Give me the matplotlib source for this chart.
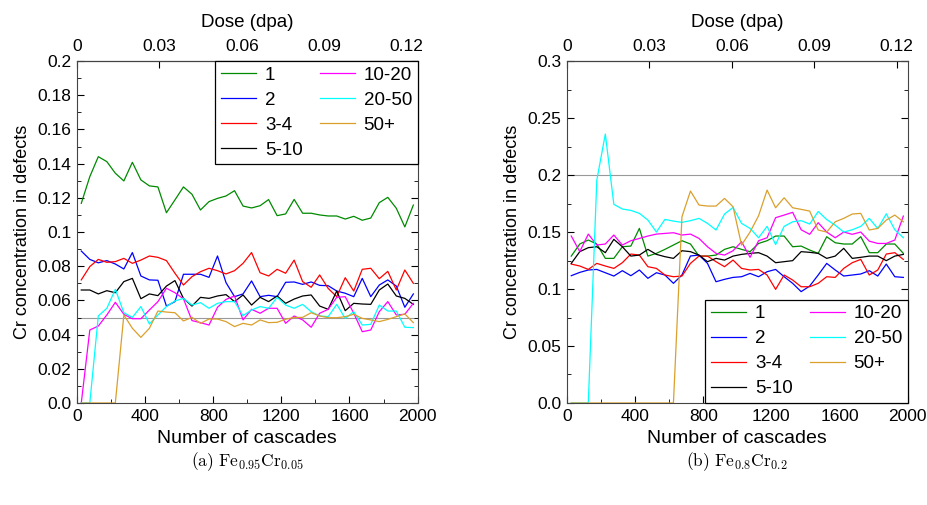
import matplotlib
matplotlib.use('Agg')
import matplotlib.pyplot as plt
from matplotlib.ticker import MultipleLocator, FuncFormatter

plt.rcParams['font.family'] = ['Liberation Sans', 'DejaVu Sans']
plt.rcParams['mathtext.fontset'] = 'cm'

# number of cascades (bin centres)
cascades = [25, 75, 125, 175, 225, 275, 325, 375, 425, 475,
            525, 575, 625, 675, 725, 775, 825, 875, 925, 975,
            1025, 1075, 1125, 1175, 1225, 1275, 1325, 1375, 1425, 1475,
            1525, 1575, 1625, 1675, 1725, 1775, 1825, 1875, 1925, 1975]

labels = ['1', '2', '3-4', '5-10', '10-20', '20-50', '50+']
colors = ['#008a00', '#0000ff', '#ff0000', '#000000', '#ff00ff', '#00ffff', '#daa02c']

# (a) Fe0.95Cr0.05
a_1 = [0.1168, 0.1324, 0.1441, 0.1412, 0.1344, 0.1299, 0.1408, 0.1305, 0.1270, 0.1264,
       0.1113, 0.1188, 0.1264, 0.1221, 0.1129, 0.1178, 0.1197, 0.1211, 0.1242, 0.1152,
       0.1141, 0.1154, 0.1190, 0.1096, 0.1106, 0.1191, 0.1110, 0.1110, 0.1100, 0.1094,
       0.1094, 0.1076, 0.1092, 0.1069, 0.1082, 0.1172, 0.1203, 0.1139, 0.1030, 0.1158]
a_2 = [0.0889, 0.0840, 0.0820, 0.0833, 0.0813, 0.0784, 0.0880, 0.0743, 0.0720, 0.0718,
       0.0567, 0.0593, 0.0753, 0.0753, 0.0753, 0.0735, 0.0860, 0.0704, 0.0622, 0.0638,
       0.0714, 0.0622, 0.0630, 0.0622, 0.0706, 0.0708, 0.0694, 0.0708, 0.0688, 0.0686,
       0.0655, 0.0642, 0.0622, 0.0729, 0.0622, 0.0690, 0.0720, 0.0684, 0.0560, 0.0638]
a_3 = [0.0720, 0.0798, 0.0840, 0.0823, 0.0827, 0.0846, 0.0817, 0.0836, 0.0860, 0.0852,
       0.0833, 0.0759, 0.0690, 0.0739, 0.0768, 0.0788, 0.0774, 0.0755, 0.0774, 0.0817,
       0.0880, 0.0762, 0.0743, 0.0782, 0.0759, 0.0836, 0.0710, 0.0677, 0.0749, 0.0670,
       0.0622, 0.0733, 0.0655, 0.0782, 0.0788, 0.0727, 0.0770, 0.0661, 0.0778, 0.0700]
a_4 = [0.0661, 0.0661, 0.0638, 0.0657, 0.0645, 0.0710, 0.0729, 0.0610, 0.0638, 0.0628,
       0.0684, 0.0716, 0.0612, 0.0567, 0.0618, 0.0612, 0.0626, 0.0634, 0.0593, 0.0632,
       0.0573, 0.0618, 0.0593, 0.0626, 0.0583, 0.0608, 0.0626, 0.0632, 0.0567, 0.0548,
       0.0655, 0.0540, 0.0583, 0.0579, 0.0577, 0.0661, 0.0696, 0.0626, 0.0612, 0.0577]
a_5 = [0.0, 0.0427, 0.0450, 0.0515, 0.0589, 0.0519, 0.0493, 0.0493, 0.0544, 0.0593,
       0.0671, 0.0645, 0.0610, 0.0482, 0.0470, 0.0456, 0.0560, 0.0606, 0.0626, 0.0486,
       0.0548, 0.0525, 0.0554, 0.0554, 0.0466, 0.0509, 0.0486, 0.0443, 0.0525, 0.0548,
       0.0618, 0.0622, 0.0525, 0.0417, 0.0427, 0.0534, 0.0593, 0.0515, 0.0519, 0.0583]
a_6 = [0.0, 0.0, 0.0509, 0.0554, 0.0665, 0.0528, 0.0501, 0.0564, 0.0462, 0.0515,
       0.0564, 0.0597, 0.0612, 0.0573, 0.0587, 0.0554, 0.0583, 0.0593, 0.0593, 0.0511,
       0.0544, 0.0564, 0.0554, 0.0618, 0.0573, 0.0554, 0.0577, 0.0534, 0.0509, 0.0505,
       0.0577, 0.0495, 0.0534, 0.0456, 0.0460, 0.0573, 0.0538, 0.0538, 0.0443, 0.0441]
a_7 = [0.0, 0.0, 0.0, 0.0, 0.0, 0.0515, 0.0437, 0.0384, 0.0437, 0.0538,
       0.0532, 0.0528, 0.0480, 0.0501, 0.0466, 0.0491, 0.0491, 0.0476, 0.0447, 0.0466,
       0.0456, 0.0486, 0.0470, 0.0472, 0.0490, 0.0500, 0.0501, 0.0528, 0.0509, 0.0499,
       0.0499, 0.0505, 0.0519, 0.0495, 0.0486, 0.0476, 0.0489, 0.0505, 0.0521, 0.0470]

# (b) Fe0.8Cr0.2
b_1 = [0.1289, 0.1395, 0.1430, 0.1395, 0.1269, 0.1269, 0.1371, 0.1377, 0.1532, 0.1289,
       0.1313, 0.1348, 0.1386, 0.1424, 0.1395, 0.1289, 0.1289, 0.1298, 0.1348, 0.1371,
       0.1348, 0.1328, 0.1400, 0.1424, 0.1465, 0.1465, 0.1371, 0.1377, 0.1342, 0.1313,
       0.1459, 0.1406, 0.1395, 0.1395, 0.1459, 0.1319, 0.1319, 0.1395, 0.1395, 0.1313]
b_2 = [0.1117, 0.1146, 0.1167, 0.1172, 0.1143, 0.1114, 0.1161, 0.1117, 0.1167, 0.1094,
       0.1143, 0.1123, 0.1050, 0.1123, 0.1290, 0.1298, 0.1225, 0.1064, 0.1085, 0.1102,
       0.1108, 0.1137, 0.1108, 0.1152, 0.1172, 0.1108, 0.1050, 0.0977, 0.1026, 0.1123,
       0.1225, 0.1167, 0.1114, 0.1123, 0.1132, 0.1161, 0.1114, 0.1219, 0.1108, 0.1102]
b_3 = [0.1219, 0.1202, 0.1172, 0.1225, 0.1202, 0.1181, 0.1231, 0.1307, 0.1298, 0.1196,
       0.1181, 0.1123, 0.1108, 0.1114, 0.1225, 0.1289, 0.1289, 0.1240, 0.1196, 0.1254,
       0.1181, 0.1167, 0.1172, 0.1123, 0.0997, 0.1123, 0.1079, 0.1020, 0.1020, 0.1050,
       0.1108, 0.1102, 0.1181, 0.1231, 0.1260, 0.1123, 0.1167, 0.1307, 0.1319, 0.1260]
b_4 = [0.1225, 0.1328, 0.1363, 0.1371, 0.1319, 0.1436, 0.1371, 0.1289, 0.1298, 0.1348,
       0.1304, 0.1284, 0.1269, 0.1336, 0.1328, 0.1298, 0.1240, 0.1269, 0.1254, 0.1289,
       0.1304, 0.1313, 0.1319, 0.1289, 0.1231, 0.1240, 0.1249, 0.1328, 0.1322, 0.1313,
       0.1269, 0.1289, 0.1357, 0.1269, 0.1278, 0.1289, 0.1289, 0.1249, 0.1289, 0.1304]
b_5 = [0.1465, 0.1328, 0.1482, 0.1386, 0.1395, 0.1474, 0.1386, 0.1424, 0.1444, 0.1465,
       0.1482, 0.1488, 0.1494, 0.1474, 0.1482, 0.1444, 0.1371, 0.1313, 0.1298, 0.1336,
       0.1415, 0.1278, 0.1424, 0.1450, 0.1626, 0.1649, 0.1673, 0.1520, 0.1480, 0.1582,
       0.1500, 0.1450, 0.1500, 0.1480, 0.1500, 0.1420, 0.1400, 0.1400, 0.1430, 0.1640]
b_6 = [0.0, 0.0, 0.0, 0.1956, 0.2360, 0.1743, 0.1702, 0.1690, 0.1664, 0.1605,
       0.1500, 0.1611, 0.1596, 0.1585, 0.1600, 0.1620, 0.1576, 0.1518, 0.1658, 0.1716,
       0.1576, 0.1532, 0.1450, 0.1550, 0.1390, 0.1550, 0.1590, 0.1600, 0.1570, 0.1680,
       0.1610, 0.1560, 0.1500, 0.1520, 0.1550, 0.1620, 0.1530, 0.1660, 0.1520, 0.1450]
b_7 = [0.0, 0.0, 0.0, 0.0, 0.0, 0.0, 0.0, 0.0, 0.0, 0.0,
       0.0, 0.0, 0.0, 0.1634, 0.1860, 0.1737, 0.1728, 0.1728, 0.1795, 0.1722,
       0.1386, 0.1500, 0.1643, 0.1868, 0.1713, 0.1801, 0.1713, 0.1699, 0.1684, 0.1518,
       0.1500, 0.1590, 0.1620, 0.1658, 0.1664, 0.1518, 0.1532, 0.1605, 0.1649, 0.1590]

dose_max = 0.124  # dpa at 2000 cascades


def fmt_tick(v, pos):
    if abs(v) < 1e-12:
        return '0.0'
    return '%g' % round(v, 4)


def panel(ax, series, ymax, ymajor, yminor, ref, caption, legend_loc):
    ax.axhline(ref, color='#999999', lw=0.8, zorder=1)
    for s, c, l in zip(series, colors, labels):
        ax.plot(cascades, s, color=c, lw=0.9, label=l, zorder=2)
    ax.set_xlim(0, 2000)
    ax.set_ylim(0, ymax)
    ax.xaxis.set_major_locator(MultipleLocator(400))
    ax.xaxis.set_minor_locator(MultipleLocator(200))
    ax.yaxis.set_major_locator(MultipleLocator(ymajor))
    ax.yaxis.set_minor_locator(MultipleLocator(yminor))
    ax.yaxis.set_major_formatter(FuncFormatter(fmt_tick))
    ax.tick_params(which='both', direction='in', right=True, labelsize=12.5, pad=4)
    ax.tick_params(which='major', length=5)
    ax.tick_params(which='minor', length=3)
    for sp in ax.spines.values():
        sp.set_color('#444444')
    ax.set_xlabel('Number of cascades', fontsize=14, labelpad=5)
    ax.set_ylabel('Cr concentration in defects', fontsize=13, labelpad=5)

    top = ax.secondary_xaxis('top', functions=(lambda x: x * dose_max / 2000,
                                               lambda d: d * 2000 / dose_max))
    top.set_xticks([0, 0.03, 0.06, 0.09, 0.12])
    top.xaxis.set_major_formatter(FuncFormatter(lambda v, p: '0' if abs(v) < 1e-12 else '%g' % round(v, 3)))
    top.tick_params(direction='in', length=5, labelsize=12.5, pad=5)
    top.set_xlabel('Dose (dpa)', fontsize=13.5, labelpad=9)

    leg = ax.legend(loc=legend_loc, ncol=2, fontsize=13.5, frameon=True, fancybox=False,
                    framealpha=1, edgecolor='black', handlelength=1.9, handletextpad=0.45,
                    columnspacing=0.9, labelspacing=0.42, borderpad=0.3,
                    borderaxespad=0)
    leg.get_frame().set_linewidth(0.9)

    pos = ax.get_position()
    ax.figure.text(pos.x0 + pos.width / 2, 0.085, caption, ha='center', va='center',
                   fontsize=12.5)


fig = plt.figure(figsize=(9.28, 5.05), dpi=100)
ax_a = fig.add_axes([0.083, 0.202, 0.367, 0.677])
ax_b = fig.add_axes([0.611, 0.202, 0.367, 0.677])

panel(ax_a, [a_1, a_2, a_3, a_4, a_5, a_6, a_7], 0.2, 0.02, 0.01, 0.05,
      r'$\mathrm{(a)\ Fe_{0.95}Cr_{0.05}}$', 'upper right')
panel(ax_b, [b_1, b_2, b_3, b_4, b_5, b_6, b_7], 0.3, 0.05, 0.025, 0.2,
      r'$\mathrm{(b)\ Fe_{0.8}Cr_{0.2}}$', 'lower right')

fig.savefig('out.png', dpi=100)
